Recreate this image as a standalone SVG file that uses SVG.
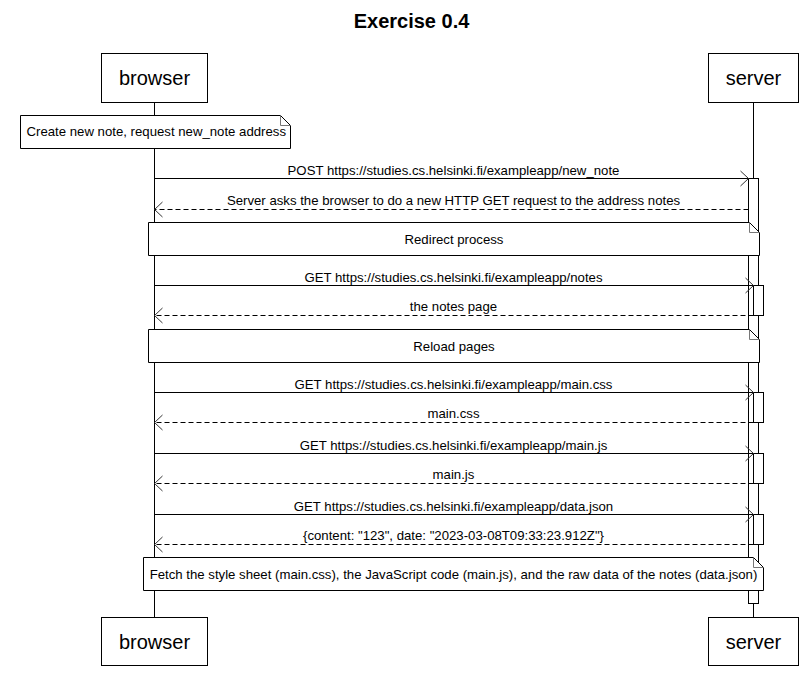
<svg xmlns="http://www.w3.org/2000/svg" width="809" height="675" viewBox="0 0 809 675">
<style>
text{font-family:"Liberation Sans",Arial,sans-serif;fill:#000}
.title{font-size:20px;font-weight:bold;text-anchor:middle}
.pname{font-size:20px;text-anchor:middle}
.msg{font-size:13.2px;text-anchor:middle}
.ntext{font-size:13.2px}
.box{fill:#fff;stroke:#000;stroke-width:1}
.life{stroke:#000;stroke-width:1;fill:none}
.act{fill:#fff;stroke:#000;stroke-width:1}
.note{fill:#fff;stroke:#000;stroke-width:1}
.fold{fill:none;stroke:#777;stroke-width:1}
.line{stroke:#000;stroke-width:1;fill:none}
.dash{stroke:#000;stroke-width:1;fill:none;stroke-dasharray:5 3}
.head{stroke:#333;stroke-width:1;fill:none}
</style>
<rect width="809" height="675" fill="#fff"/>
<text class="title" x="411.5" y="28">Exercise 0.4</text>

<g id="lifelines">
<line class="life" x1="154.5" y1="102" x2="154.5" y2="618"/>
<line class="life" x1="753.5" y1="102" x2="753.5" y2="618"/>
</g>

<g id="activations">
<rect class="act" x="748.5" y="178.5" width="10" height="425"/>
<rect class="act" x="753.5" y="285.5" width="10" height="30"/>
<rect class="act" x="753.5" y="392.5" width="10" height="30"/>
<rect class="act" x="753.5" y="453.5" width="10" height="30"/>
<rect class="act" x="753.5" y="514.5" width="10" height="30"/>
</g>

<g id="browser">
<rect class="box" x="101.5" y="53.5" width="106" height="49"/>
<text class="pname" x="154.5" y="84.5">browser</text>
</g>
<g id="server">
<rect class="box" x="708.5" y="53.5" width="90" height="49"/>
<text class="pname" x="753.5" y="84.5">server</text>
</g>
<g id="browser-bottom">
<rect class="box" x="101.5" y="617.5" width="106" height="48"/>
<text class="pname" x="154.5" y="648.5">browser</text>
</g>
<g id="server-bottom">
<rect class="box" x="708.5" y="617.5" width="90" height="48"/>
<text class="pname" x="753.5" y="648.5">server</text>
</g>

<g id="connectors">
<line class="line" x1="154.5" y1="178.5" x2="748.5" y2="178.5"/>
<path class="head" d="M740.5,171 L748.5,178.5 L740.5,186"/>
<text class="msg" x="453.5" y="175">POST https://studies.cs.helsinki.fi/exampleapp/new_note</text>

<line class="dash" x1="748.5" y1="209.5" x2="154.5" y2="209.5"/>
<path class="head" d="M162.5,202 L154.5,209.5 L162.5,217"/>
<text class="msg" x="453.5" y="205">Server asks the browser to do a new HTTP GET request to the address notes</text>

<line class="line" x1="154.5" y1="285.5" x2="753.5" y2="285.5"/>
<path class="head" d="M745.5,278 L753.5,285.5 L745.5,293"/>
<text class="msg" x="453.5" y="282">GET https://studies.cs.helsinki.fi/exampleapp/notes</text>

<line class="dash" x1="753.5" y1="315.5" x2="154.5" y2="315.5"/>
<path class="head" d="M162.5,308 L154.5,315.5 L162.5,323"/>
<text class="msg" x="453.5" y="311">the notes page</text>

<line class="line" x1="154.5" y1="392.5" x2="753.5" y2="392.5"/>
<path class="head" d="M745.5,385 L753.5,392.5 L745.5,400"/>
<text class="msg" x="453.5" y="389">GET https://studies.cs.helsinki.fi/exampleapp/main.css</text>

<line class="dash" x1="753.5" y1="422.5" x2="154.5" y2="422.5"/>
<path class="head" d="M162.5,415 L154.5,422.5 L162.5,430"/>
<text class="msg" x="453.5" y="418">main.css</text>

<line class="line" x1="154.5" y1="453.5" x2="753.5" y2="453.5"/>
<path class="head" d="M745.5,446 L753.5,453.5 L745.5,461"/>
<text class="msg" x="453.5" y="450">GET https://studies.cs.helsinki.fi/exampleapp/main.js</text>

<line class="dash" x1="753.5" y1="483.5" x2="154.5" y2="483.5"/>
<path class="head" d="M162.5,476 L154.5,483.5 L162.5,491"/>
<text class="msg" x="453.5" y="479">main.js</text>

<line class="line" x1="154.5" y1="514.5" x2="753.5" y2="514.5"/>
<path class="head" d="M745.5,507 L753.5,514.5 L745.5,522"/>
<text class="msg" x="453.5" y="511">GET https://studies.cs.helsinki.fi/exampleapp/data.json</text>

<line class="dash" x1="753.5" y1="544.5" x2="154.5" y2="544.5"/>
<path class="head" d="M162.5,537 L154.5,544.5 L162.5,552"/>
<text class="msg" x="453.5" y="540">{content: "123", date: "2023-03-08T09:33:23.912Z"}</text>
</g>

<g id="note-create">
<path class="note" d="M20.5,115.5 H280.5 L290.5,125.5 V148.5 H20.5 Z"/>
<path class="fold" d="M280.5,115.5 V125.5 H290.5"/>
<text class="ntext" x="26.5" y="136">Create new note, request new_note address</text>
</g>
<g id="note-redirect">
<path class="note" d="M148.5,222.5 H749.5 L759.5,232.5 V255.5 H148.5 Z"/>
<path class="fold" d="M749.5,222.5 V232.5 H759.5"/>
<text class="ntext" x="454" y="243.5" text-anchor="middle">Redirect process</text>
</g>
<g id="note-reload">
<path class="note" d="M148.5,329.5 H749.5 L759.5,339.5 V362.5 H148.5 Z"/>
<path class="fold" d="M749.5,329.5 V339.5 H759.5"/>
<text class="ntext" x="454" y="350.5" text-anchor="middle">Reload pages</text>
</g>
<g id="note-fetch">
<path class="note" d="M143.5,557.5 H753.5 L763.5,567.5 V590.5 H143.5 Z"/>
<path class="fold" d="M753.5,557.5 V567.5 H763.5"/>
<text class="ntext" x="453.5" y="578.5" text-anchor="middle">Fetch the style sheet (main.css), the JavaScript code (main.js), and the raw data of the notes (data.json)</text>
</g>
</svg>
